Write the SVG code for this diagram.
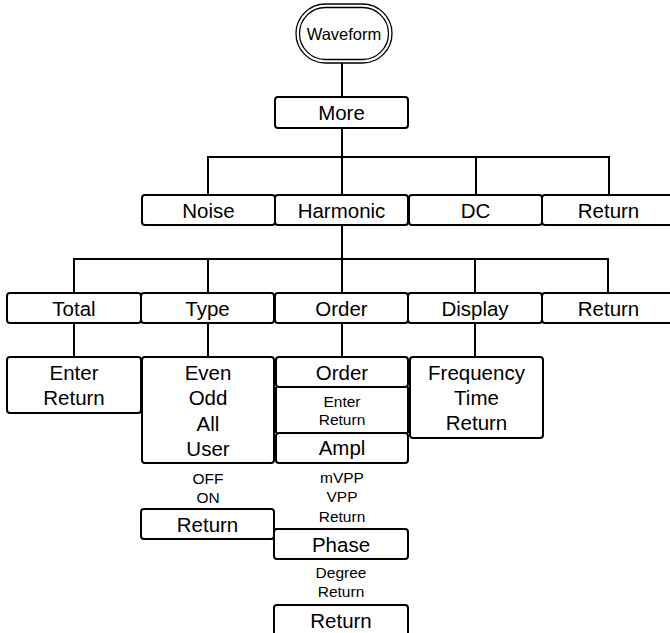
<svg xmlns="http://www.w3.org/2000/svg" width="670" height="633" viewBox="0 0 670 633">
<style>
.b{fill:#fff;stroke:#000;stroke-width:2}
.p{fill:#fff;stroke:#000;stroke-width:1.3}
.l{fill:none;stroke:#000;stroke-width:2}
.t{font-family:"Liberation Sans",Arial,sans-serif;font-size:20.5px;fill:#000;text-anchor:middle;dominant-baseline:central}
.s{font-family:"Liberation Sans",Arial,sans-serif;font-size:15.5px;fill:#000;text-anchor:middle;dominant-baseline:central}
</style>
<rect width="670" height="633" fill="#fff"/>
<g id="connectors">
<path class="l" d="M342 63V97M342 128V195M208 195V157H609V195M476 157V195"/>
<path class="l" d="M342 225V293M74 293V259H608V293M208 259V293M475 259V293"/>
<path class="l" d="M74 323V357M208 323V357M342 323V357M475 323V357"/>
</g>
<g id="waveform">
<rect class="p" x="296" y="4" width="96" height="59" rx="29.5"/>
<rect class="p" x="299.5" y="7.5" width="89" height="52" rx="26"/>
<text class="s" x="344" y="34" style="font-size:16.5px">Waveform</text>
</g>
<g id="more"><rect class="b" x="275" y="97" width="133" height="31" rx="3"/><text class="t" x="341.5" y="112.5">More</text></g>
<g id="noise"><rect class="b" x="142" y="195" width="133" height="30" rx="3"/><text class="t" x="208.5" y="210">Noise</text></g>
<g id="harmonic"><rect class="b" x="275" y="195" width="133" height="30" rx="3"/><text class="t" x="341.5" y="210">Harmonic</text></g>
<g id="dc"><rect class="b" x="409" y="195" width="133" height="30" rx="3"/><text class="t" x="475.5" y="210">DC</text></g>
<g id="return1"><rect class="b" x="542" y="195" width="133" height="30" rx="3"/><text class="t" x="608.5" y="210">Return</text></g>
<g id="total"><rect class="b" x="7" y="293" width="134" height="30" rx="3"/><text class="t" x="74" y="308">Total</text></g>
<g id="type"><rect class="b" x="141" y="293" width="133" height="30" rx="3"/><text class="t" x="207.5" y="308">Type</text></g>
<g id="order"><rect class="b" x="275" y="293" width="133" height="30" rx="3"/><text class="t" x="341.5" y="308">Order</text></g>
<g id="display"><rect class="b" x="408" y="293" width="134" height="30" rx="3"/><text class="t" x="475" y="308">Display</text></g>
<g id="return2"><rect class="b" x="542" y="293" width="133" height="30" rx="3"/><text class="t" x="608.5" y="308">Return</text></g>
<g id="total-menu"><rect class="b" x="7" y="357" width="134" height="56" rx="3"/><text class="t" x="74" y="372">Enter</text><text class="t" x="74" y="397">Return</text></g>
<g id="type-menu"><rect class="b" x="142" y="357" width="132" height="106" rx="3"/><text class="t" x="208" y="372">Even</text><text class="t" x="208" y="397">Odd</text><text class="t" x="208" y="423">All</text><text class="t" x="208" y="448">User</text></g>
<g id="user-opts"><text class="s" x="208" y="478">OFF</text><text class="s" x="208" y="497">ON</text></g>
<g id="type-return"><rect class="b" x="141" y="509" width="133" height="30" rx="3"/><text class="t" x="207.5" y="524">Return</text></g>
<g id="order-menu">
<path class="l" d="M276 387V433M408 387V433"/>
<rect class="b" x="276" y="357" width="132" height="30" rx="3"/><text class="t" x="342" y="372">Order</text>
<text class="s" x="342" y="401">Enter</text><text class="s" x="342" y="419">Return</text>
</g>
<g id="ampl"><rect class="b" x="276" y="433" width="132" height="30" rx="3"/><text class="t" x="342" y="447">Ampl</text></g>
<g id="ampl-opts"><text class="s" x="342" y="477">mVPP</text><text class="s" x="342" y="496">VPP</text><text class="s" x="342" y="516">Return</text></g>
<g id="phase"><rect class="b" x="274" y="529" width="134" height="30" rx="3"/><text class="t" x="341" y="544">Phase</text></g>
<g id="phase-opts"><text class="s" x="341" y="572">Degree</text><text class="s" x="341" y="591">Return</text></g>
<g id="order-return"><rect class="b" x="274" y="605" width="134" height="34" rx="3"/><text class="t" x="341" y="620">Return</text></g>
<g id="display-menu"><rect class="b" x="410" y="357" width="133" height="81" rx="3"/><text class="t" x="476.5" y="372">Frequency</text><text class="t" x="476.5" y="397">Time</text><text class="t" x="476.5" y="422">Return</text></g>
</svg>
